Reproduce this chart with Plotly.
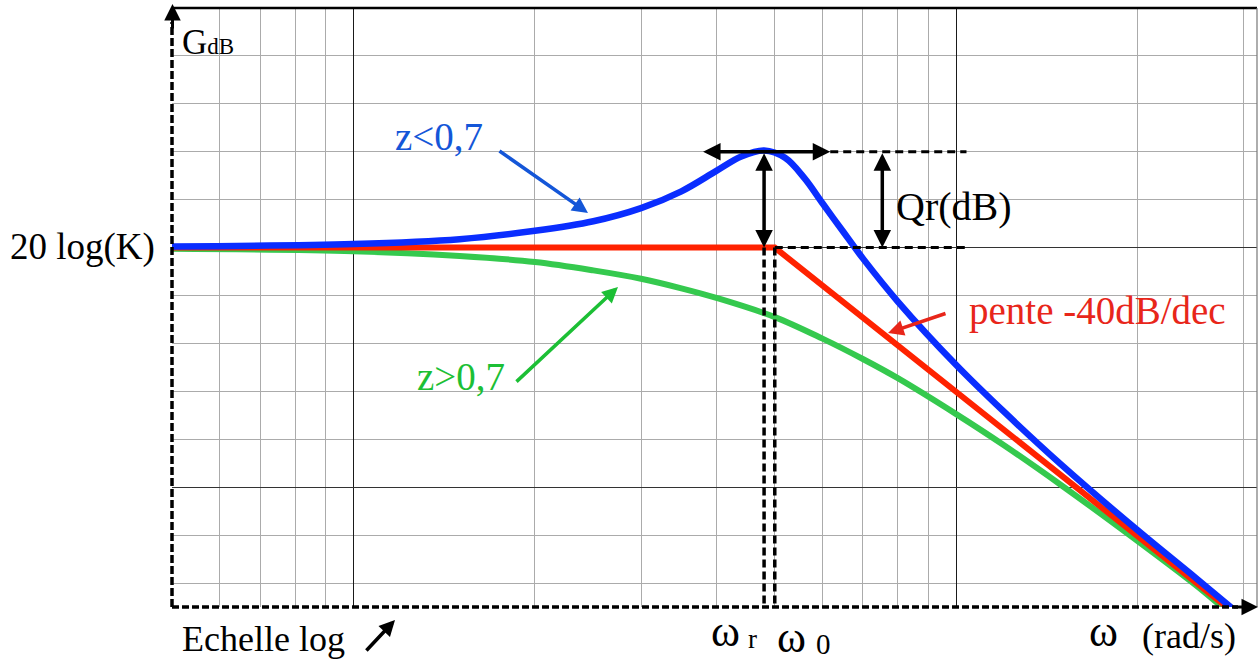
import numpy as np
import plotly.graph_objects as go

# ---------------- data ----------------
# pulsations in rad/s, gains in dB relative to 20 log(K)
omega_blue = [0.5, 1, 1.5, 2, 2.5, 3, 3.5, 4, 4.4, 4.8, 5.2, 5.6, 6, 6.5, 7, 8, 10, 12, 15, 20, 25, 29]
gain_blue = [0.1, 0.3, 0.7, 1.4, 2.2, 3.3, 4.7, 6.4, 7.6, 8.1, 7.5, 5.8, 3.7, 1.3, -0.9, -4.5, -9.8, -13.7, -18.2, -23.6, -27.6, -30.3]

omega_green = [0.5, 1, 1.5, 2, 2.5, 3, 3.5, 4, 5, 6, 7, 8, 10, 12, 15, 20, 25, 27.6]
gain_green = [-0.1, -0.3, -0.7, -1.2, -1.9, -2.6, -3.4, -4.2, -5.8, -7.6, -9.3, -10.9, -13.9, -16.5, -19.9, -24.5, -28.2, -30.0]

omega_red = [0.5, 5, 28.1]
gain_red = [0, 0, -30]

omega_0 = 5.0
omega_r = 4.8
gain_K = 0.0
peak_db = 8.0
x_min, x_max = 0.5, 31.55
y_min, y_max = -30, 20

minor_x = [0.6, 0.7, 0.8, 0.9, 2, 3, 4, 5, 6, 7, 8, 9, 20, 30]
major_x = [1, 10]
major_y = [-20, 0, 20]

# ---------------- layout helpers ----------------
W, H = 1260, 661
ML, MR, MT, MB = 172, 3, 8, 54
PW, PH = W - ML - MR, H - MT - MB
SERIF = "Liberation Serif, Times New Roman, serif"


def xp(px_):
    return (px_ - ML) / PW


def yp(py_):
    return (H - MB - py_) / PH


def lg(v):
    return float(np.log10(v))


fig = go.Figure()

# curves
fig.add_trace(go.Scatter(x=omega_green, y=gain_green, mode="lines",
                         line=dict(color="#35c94e", width=6, shape="spline"),
                         hoverinfo="skip", showlegend=False))
fig.add_trace(go.Scatter(x=omega_red, y=gain_red, mode="lines",
                         line=dict(color="#ff2200", width=6),
                         hoverinfo="skip", showlegend=False))
fig.add_trace(go.Scatter(x=omega_blue, y=gain_blue, mode="lines",
                         line=dict(color="#0a2dff", width=6.5, shape="spline"),
                         hoverinfo="skip", showlegend=False))

# dashed construction lines
for w in (omega_r, omega_0):
    fig.add_trace(go.Scatter(x=[w, w], y=[gain_K, y_min], mode="lines",
                             line=dict(color="black", width=3.5, dash="8px,4px"),
                             hoverinfo="skip", showlegend=False))
fig.add_trace(go.Scatter(x=[6.18, 10.4], y=[peak_db, peak_db], mode="lines",
                         line=dict(color="black", width=3, dash="8px,5px"),
                         hoverinfo="skip", showlegend=False))
fig.add_trace(go.Scatter(x=[omega_0, 10.4], y=[gain_K, gain_K], mode="lines",
                         line=dict(color="black", width=3, dash="8px,5px"),
                         hoverinfo="skip", showlegend=False))

shapes = [
    # top border
    dict(type="line", xref="paper", yref="paper", x0=0, x1=1, y0=1, y1=1,
         line=dict(color="black", width=2.5)),
    # right border
    dict(type="line", xref="paper", yref="paper", x0=1, x1=1, y0=0, y1=1,
         line=dict(color="#777777", width=1.2)),
    # dashed y axis
    dict(type="line", xref="paper", yref="paper", x0=0, x1=0, y0=0, y1=yp(22),
         line=dict(color="black", width=3.5, dash="8px,3px")),
    # dashed x axis
    dict(type="line", xref="paper", yref="paper", x0=0, x1=xp(1238), y0=0, y1=0,
         line=dict(color="black", width=3.5, dash="7px,3px")),
]

annotations = []


def arrow_px(tip, tail, color, width=3, size=1.0, head=2):
    annotations.append(dict(
        xref="paper", yref="paper", x=xp(tip[0]), y=yp(tip[1]),
        axref="pixel", ayref="pixel", ax=tail[0] - tip[0], ay=tail[1] - tip[1],
        text="", showarrow=True, arrowhead=head, arrowsize=size,
        arrowwidth=width, arrowcolor=color))


def text_px(txt, left, cy, size, color="black"):
    annotations.append(dict(
        xref="paper", yref="paper", x=xp(left), y=yp(cy), xanchor="left",
        yanchor="middle", text=txt, showarrow=False,
        font=dict(family=SERIF, size=size, color=color)))


# axis arrow heads
arrow_px((172.5, 4), (172.5, 30), "black", width=3, size=1.1)
arrow_px((1258, 607), (1232, 607), "black", width=3, size=1.1)

# double arrows (data coordinates)
def dbl_arrow(x0, y0, x1, y1):
    annotations.append(dict(
        xref="x", yref="y", x=lg(x1), y=y1, axref="x", ayref="y",
        ax=lg(x0), ay=y0, text="", showarrow=True, arrowhead=2, startarrowhead=2,
        arrowside="end+start", arrowsize=1, startarrowsize=1,
        arrowwidth=3.5, arrowcolor="black"))


dbl_arrow(3.78, peak_db, 6.18, peak_db)
dbl_arrow(omega_r, peak_db, omega_r, gain_K)
dbl_arrow(7.54, peak_db, 7.54, gain_K)

# colored pointer arrows
arrow_px((588, 213), (498, 150), "#1456d8", width=3.5, size=0.9)
arrow_px((618, 287), (515, 383), "#1cbf35", width=3.5, size=0.9)
arrow_px((888, 333), (947, 313), "#e8261a", width=3.5, size=0.9)
arrow_px((395, 620), (365, 652), "black", width=3.5, size=0.9)

# texts
text_px("20 log(K)", 8, 247, 37)
text_px("G<span style='font-size:23px'>dB</span>", 180, 42, 35)
text_px("z&lt;0,7", 393, 136, 39, "#1456d8")
text_px("z&gt;0,7", 415, 376, 39, "#1cbf35")
text_px("pente -40dB/dec", 967, 311, 39, "#e8261a")
text_px("Qr(dB)", 894, 206, 40)
text_px("Echelle log", 180, 639, 36)
text_px("ω", 709, 631, 44)
text_px("r", 746, 639, 27)
text_px("ω", 775, 637, 44)
text_px("0", 814, 644, 29)
text_px("ω", 1087, 631, 44)
text_px("(rad/s)", 1140, 636, 36)

fig.update_layout(
    width=W, height=H,
    margin=dict(l=ML, r=MR, t=MT, b=MB, pad=0),
    paper_bgcolor="white", plot_bgcolor="white",
    showlegend=False,
    shapes=shapes, annotations=annotations,
    xaxis=dict(type="log", range=[lg(x_min), lg(x_max)], showticklabels=False,
               ticks="", showline=False, zeroline=False,
               tickmode="array", tickvals=major_x,
               showgrid=True, gridcolor="#1a1a1a", gridwidth=1.2,
               minor=dict(tickmode="array", tickvals=minor_x, showgrid=True,
                          gridcolor="#ababab", gridwidth=1.2, ticks="")),
    yaxis=dict(range=[y_min, y_max], showticklabels=False, ticks="",
               showline=False, zeroline=False,
               tickmode="array", tickvals=major_y,
               showgrid=True, gridcolor="#333333", gridwidth=1.2,
               minor=dict(tickmode="linear", tick0=0, dtick=4, showgrid=True,
                          gridcolor="#ababab", gridwidth=1.2, ticks="")),
)

fig.write_html(
    "out.html",
    config={"displayModeBar": False},
    post_script="document.body.style.margin='0px';document.body.style.overflow='hidden';",
)
